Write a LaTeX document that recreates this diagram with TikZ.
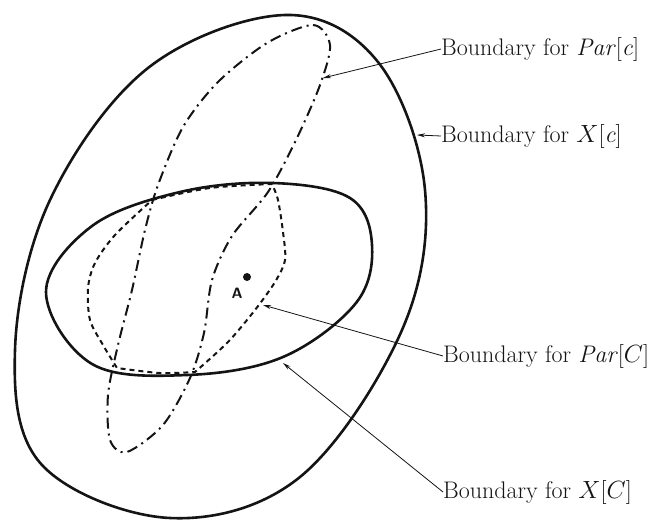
\documentclass[tikz,border=0pt]{standalone}
\usepackage{amsmath,amssymb}
\usepackage{xcolor}
\usepackage{tikz}
\usetikzlibrary{calc,arrows.meta,positioning}
\definecolor{inkBlack}{RGB}{20,20,20}

\begin{document}
\begin{tikzpicture}[x=1pt,y=-1pt,
    bndlabel/.style={anchor=base west, inner sep=0pt, text=inkBlack, font=\fontsize{24}{28}\selectfont},
    leader/.style={-{Stealth[length=8pt,width=4pt]}, line width=0.8pt, inkBlack},
    solidbnd/.style={line width=2.6pt, inkBlack},
    parCbnd/.style={line width=2pt, inkBlack, dash pattern=on 5pt off 4pt},
    parcbnd/.style={line width=2pt, inkBlack, dash pattern=on 11pt off 5pt on 2pt off 5pt}]
    \useasboundingbox (0,0) rectangle (654,520);

    \draw[solidbnd] plot[smooth cycle, tension=0.6] coordinates {(285,15) (378,62) (425,190) (402,330) (300,477) (170,518) (42,465) (15,350) (50,200) (148,68)};

    \draw[solidbnd] plot[smooth cycle, tension=0.6] coordinates {(46,292) (92,226) (180,192) (273,183) (350,198) (372,245) (356,303) (283,357) (187,375) (92,364)};

    \draw[parCbnd] plot[smooth] coordinates {(152,200) (210,188) (272,184)}
        -- plot[smooth] coordinates {(272,184) (278,200) (283,232) (285,260) (275,282) (255,310) (228,342) (195,372)}
        -- plot[smooth] coordinates {(195,372) (160,373) (117,368)}
        -- plot[smooth] coordinates {(117,368) (103,345) (90,320) (88,288) (95,263) (115,235) (152,200)};

    \draw[parcbnd] plot[smooth cycle] coordinates {(267,43) (313,25) (330,45) (320,85) (296,140) (268,192) (232,236) (212,280) (204,333) (190,378) (163,425) (127,452) (110,440) (108,395) (118,345) (132,290) (145,230) (158,185) (183,127) (218,82)};

    \fill[inkBlack] (247,277) circle (4);
    \node[inkBlack, font=\sffamily\bfseries\fontsize{15}{18}\selectfont] (ptA) at (237,293) {A};

    \node[bndlabel] (labPc) at (441,55) {Boundary for \textit{Par}[\textit{c}]};
    \node[bndlabel] (labXc) at (441,142) {Boundary for $X$[\textit{c}]};
    \node[bndlabel] (labPC) at (443,362) {Boundary for \textit{Par}[$C$]};
    \node[bndlabel] (labXC) at (443,498) {Boundary for $X$[$C$]};

    \coordinate (tipPc) at (323,78);
    \coordinate (tipXc) at (417,135);
    \coordinate (tipPC) at (263,305);
    \coordinate (tipXC) at (283,363);

    \draw[leader] (labPc.west) -- (tipPc);
    \draw[leader] (labXc.west) -- (tipXc);
    \draw[leader] (labPC.west) -- (tipPC);
    \draw[leader] (labXC.west) -- (tipXC);
\end{tikzpicture}
\end{document}
